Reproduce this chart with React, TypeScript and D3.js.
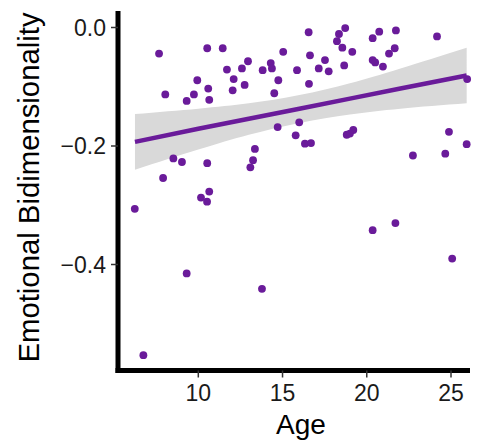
import React from "react";
import * as d3 from "d3";

// ages and emotional bidimensionality scores
const ages = [
  7.67, 10.53, 11.45, 15.04, 12.95, 11.7, 12.59, 13.82, 14.3, 14.37, 15.86, 9.94,
  12.1, 14.75, 8.04, 10.59, 12.04, 12.75, 14.51, 9.74, 9.31, 10.65, 14.71, 15.78,
  13.36, 15.99, 16.55, 18.72, 18.35, 18.23, 18.55, 19.14, 20.35, 20.74, 21.73, 24.17,
  21.66, 21.32, 16.63, 17.52, 17.15, 17.74, 18.66, 20.35, 20.5, 20.96, 16.57, 25.96,
  16.33, 16.69, 18.81, 19.2, 19.0, 24.88, 25.93, 13.25, 13.09, 8.52, 9.03, 10.53,
  7.91, 10.65, 10.16, 10.52, 6.23, 9.31, 13.78, 6.74, 22.74, 24.66, 21.7, 20.35, 25.07,
];
const scores = [
  -0.044, -0.035, -0.035, -0.041, -0.057, -0.071, -0.069, -0.072, -0.06, -0.069, -0.072, -0.089,
  -0.087, -0.089, -0.113, -0.103, -0.106, -0.097, -0.111, -0.113, -0.124, -0.122, -0.168, -0.182,
  -0.205, -0.16, -0.008, -0.001, -0.011, -0.023, -0.034, -0.041, -0.018, -0.007, -0.005, -0.015,
  -0.035, -0.044, -0.047, -0.055, -0.069, -0.074, -0.064, -0.055, -0.059, -0.066, -0.095, -0.087,
  -0.196, -0.195, -0.181, -0.173, -0.179, -0.176, -0.197, -0.224, -0.236, -0.221, -0.227, -0.229,
  -0.254, -0.277, -0.287, -0.294, -0.306, -0.415, -0.441, -0.553, -0.216, -0.213, -0.33, -0.342, -0.39,
];

// linear fit and its confidence band, read at a few ages
const fitAges = [6.24, 10, 13, 16, 19, 22, 25.93];
const fitValues = [-0.193, -0.171, -0.154, -0.137, -0.12, -0.103, -0.081];
const fitLower = [-0.24, -0.206, -0.181, -0.161, -0.147, -0.137, -0.128];
const fitUpper = [-0.146, -0.137, -0.128, -0.114, -0.094, -0.069, -0.034];

const xTicks = [10, 15, 20, 25];
const yTicks = [0, -0.2, -0.4];

const purple = "#6a1b9a";

export default function App() {
  const width = 484;
  const height = 442;
  const x = d3.scaleLinear([10, 25], [198.3, 451]);
  const y = d3.scaleLinear([0, -0.4], [27.5, 264.5]);

  const axisX = 118;
  const axisY = 370.5;

  const area = d3
    .area<number>()
    .x((d) => x(d))
    .y0((d, i) => y(fitLower[i]))
    .y1((d, i) => y(fitUpper[i]))
    .curve(d3.curveNatural);
  const line = d3
    .line<number>()
    .x((d) => x(d))
    .y((d, i) => y(fitValues[i]));

  const font = "'Liberation Sans', Arial, sans-serif";

  return (
    <svg
      width={width}
      height={height}
      style={{ position: "absolute", left: 0, top: 0, background: "white" }}
      fontFamily={font}
    >
      <path d={area(fitAges) ?? ""} fill="#d9d9d9" />
      <g fill={purple}>
        {ages.map((a, i) => (
          <circle key={i} cx={x(a)} cy={y(scores[i])} r={3.9} />
        ))}
      </g>
      <path d={line(fitAges) ?? ""} fill="none" stroke={purple} strokeWidth={4.5} />

      {/* axes */}
      <line x1={axisX} x2={axisX} y1={11} y2={axisY + 2.5} stroke="black" strokeWidth={5} />
      <line x1={axisX - 2.5} x2={470} y1={axisY} y2={axisY} stroke="black" strokeWidth={5} />

      {xTicks.map((t) => (
        <g key={t} transform={`translate(${x(t)},0)`}>
          <line y1={axisY} y2={axisY + 7} stroke="#333" strokeWidth={1.5} />
          <text y={401} textAnchor="middle" fontSize={23} fill="#1a1a1a">
            {t}
          </text>
        </g>
      ))}
      {yTicks.map((t) => (
        <g key={t} transform={`translate(0,${y(t)})`}>
          <line x1={axisX - 7} x2={axisX} stroke="#333" strokeWidth={1.5} />
          <text x={106} dy="0.36em" textAnchor="end" fontSize={23} fill="#1a1a1a">
            {d3.format(".1f")(t).replace("-", "\u2212")}
          </text>
        </g>
      ))}

      <text x={301} y={434} textAnchor="middle" fontSize={28} fill="black">
        Age
      </text>
      <text
        transform="translate(39,187.5) rotate(-90)"
        textAnchor="middle"
        fontSize={29.3}
        fill="black"
      >
        Emotional Bidimensionality
      </text>
    </svg>
  );
}
